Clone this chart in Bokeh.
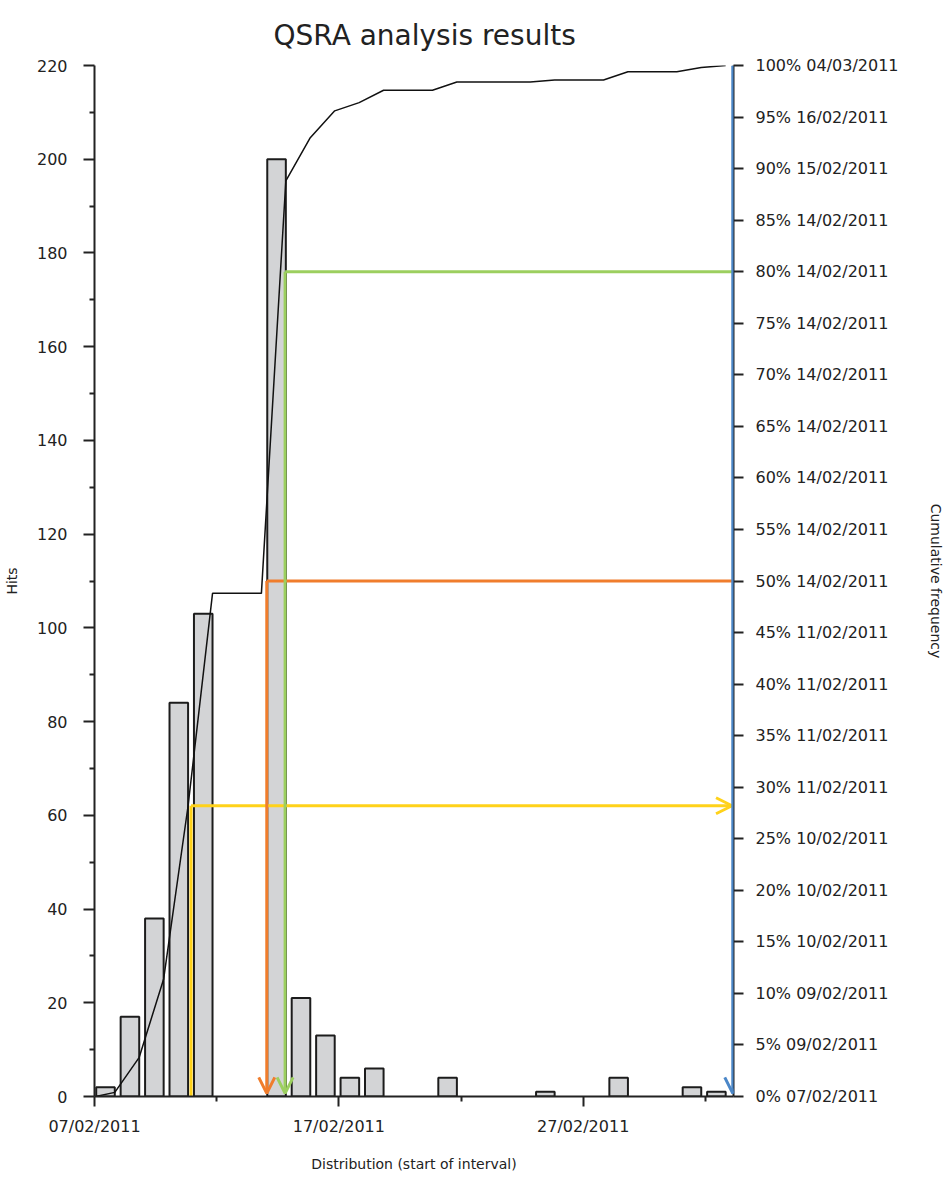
import numpy as np
import pandas as pd
from bokeh.plotting import figure
from bokeh.models import Range1d, LinearAxis, FixedTicker, Arrow, OpenHead
from bokeh.embed import file_html
from bokeh.resources import INLINE

# ---------------- data ----------------
title_text = "QSRA analysis results"
x_label = "Distribution (start of interval)"
y_label = "Hits"
y2_label = "Cumulative frequency"

start_date = "07/02/2011"
end_date = "04/03/2011"
bin_dates = ["07/02/2011", "08/02/2011", "09/02/2011", "10/02/2011", "11/02/2011",
             "14/02/2011", "15/02/2011", "16/02/2011", "17/02/2011", "18/02/2011",
             "21/02/2011", "25/02/2011", "28/02/2011", "03/03/2011", "04/03/2011"]
hits = [2, 17, 38, 84, 103, 200, 21, 13, 4, 6, 4, 1, 4, 2, 1]

x_tick_dates = ["07/02/2011", "17/02/2011", "27/02/2011"]
x_minor_dates = ["12/02/2011", "22/02/2011", "04/03/2011"]
hit_ticks = list(range(0, 221, 20))
hit_minor = list(range(10, 211, 20))

pct_ticks = list(range(0, 101, 5))
pct_dates = ["07/02/2011", "09/02/2011", "09/02/2011", "10/02/2011", "10/02/2011",
             "10/02/2011", "11/02/2011", "11/02/2011", "11/02/2011", "11/02/2011",
             "14/02/2011", "14/02/2011", "14/02/2011", "14/02/2011", "14/02/2011",
             "14/02/2011", "14/02/2011", "14/02/2011", "15/02/2011", "16/02/2011",
             "04/03/2011"]

# marker lines: cumulative % level and x position (days after start)
marker_pct = [28.2, 50, 80, 100]
marker_day = [3.95, 7.05, 7.8, 26.12]
marker_colors = ["#FFD21A", "#F07D2C", "#9CCF5F", "#4B87C8"]

# ---------------- derived ----------------
t0 = pd.to_datetime(start_date, dayfirst=True)
def day_of(s):
    return (pd.to_datetime(s, dayfirst=True) - t0).days

bin_days = np.array([day_of(d) for d in bin_dates])
n_days = day_of(end_date) + 1
daily = np.zeros(n_days)
daily[bin_days] = hits
cum_pct = np.cumsum(daily) / daily.sum() * 100.0

bar_off = 0.45
bar_w = 0.76
cx = [0.05] + list(np.arange(n_days) + bar_off + bar_w / 2)
cy = [0.0] + list(cum_pct)

X_END = 26.15
FONT = "DejaVu Sans"
INK = "#222222"

p = figure(frame_width=639, frame_height=1031,
           x_range=Range1d(0, X_END), y_range=Range1d(0, 220),
           output_backend="svg", toolbar_location=None,
           min_border_left=92, min_border_right=206,
           min_border_top=65, min_border_bottom=75,
           title=title_text)
p.extra_y_ranges = {"pct": Range1d(0, 100)}

p.title.align = "left"
p.title.text_font = FONT
p.title.text_font_size = "28px"
p.title.text_font_style = "normal"
p.title.text_color = INK
p.title.offset = 179
p.title.standoff = 27

p.grid.visible = False
p.outline_line_color = None
p.background_fill_color = "white"

# bars
p.vbar(x=bin_days + bar_off, width=bar_w, top=hits, bottom=0,
       fill_color="#d3d4d6", line_color="#1c1c1c", line_width=2)

# cumulative line
p.line(cx, cy, y_range_name="pct", line_color="#111111", line_width=1.5)

# marker lines
yc, oc, gc, bc = marker_colors
# yellow: vertical (no head) and horizontal arrow to right axis
p.segment(x0=[marker_day[0]], y0=[marker_pct[0]], x1=[marker_day[0]], y1=[0],
          y_range_name="pct", line_color=yc, line_width=3)
p.add_layout(Arrow(end=OpenHead(size=16, line_color=yc, line_width=3),
                   x_start=marker_day[0], y_start=marker_pct[0],
                   x_end=X_END - 0.06, y_end=marker_pct[0],
                   line_color=yc, line_width=3, y_range_name="pct"))
# orange / green: horizontal from right axis, arrow down to x axis
for i in (1, 2):
    c = marker_colors[i]
    p.segment(x0=[marker_day[i]], y0=[marker_pct[i]], x1=[X_END], y1=[marker_pct[i]],
              y_range_name="pct", line_color=c, line_width=3)
    p.add_layout(Arrow(end=OpenHead(size=16, line_color=c, line_width=3),
                       x_start=marker_day[i], y_start=marker_pct[i],
                       x_end=marker_day[i], y_end=0.3,
                       line_color=c, line_width=3, y_range_name="pct"))
# blue: along right axis
p.add_layout(Arrow(end=OpenHead(size=16, line_color=bc, line_width=3),
                   x_start=marker_day[3], y_start=marker_pct[3],
                   x_end=marker_day[3], y_end=0.3,
                   line_color=bc, line_width=3, y_range_name="pct"))

# axes
xt = [day_of(d) for d in x_tick_dates]
xm = [day_of(d) for d in x_minor_dates]
xa = p.xaxis[0]
xa.ticker = FixedTicker(ticks=xt, minor_ticks=xm)
xa.major_label_overrides = {t: lab for t, lab in zip(xt, x_tick_dates)}
xa.axis_label = x_label

ya = p.yaxis[0]
ya.ticker = FixedTicker(ticks=hit_ticks, minor_ticks=hit_minor)
ya.axis_label = y_label

ra = LinearAxis(y_range_name="pct", axis_label=y2_label,
                ticker=FixedTicker(ticks=pct_ticks, minor_ticks=[]))
ra.major_label_overrides = {t: f"{t}% {d}" for t, d in zip(pct_ticks, pct_dates)}
p.add_layout(ra, "right")

for ax in (xa, ya, ra):
    ax.axis_line_color = INK
    ax.axis_line_width = 2
    ax.major_tick_line_color = INK
    ax.major_tick_line_width = 2
    ax.minor_tick_line_color = INK
    ax.minor_tick_line_width = 2
    ax.major_tick_in = 0
    ax.minor_tick_in = 0
    ax.major_label_text_font = FONT
    ax.major_label_text_font_size = "16px"
    ax.major_label_text_color = INK
    ax.axis_label_text_font = FONT
    ax.axis_label_text_font_size = "14px"
    ax.axis_label_text_font_style = "normal"
    ax.axis_label_text_color = INK

xa.major_tick_out = 10
xa.minor_tick_out = 5
xa.major_label_standoff = 10
xa.axis_label_standoff = 17

ya.major_tick_out = 11
ya.minor_tick_out = 5
ya.major_label_standoff = 16
ya.axis_label_standoff = 14

ra.major_tick_out = 10
ra.major_label_standoff = 12
ra.axis_label_standoff = 26

open("out.html", "w").write(file_html(p, INLINE))
